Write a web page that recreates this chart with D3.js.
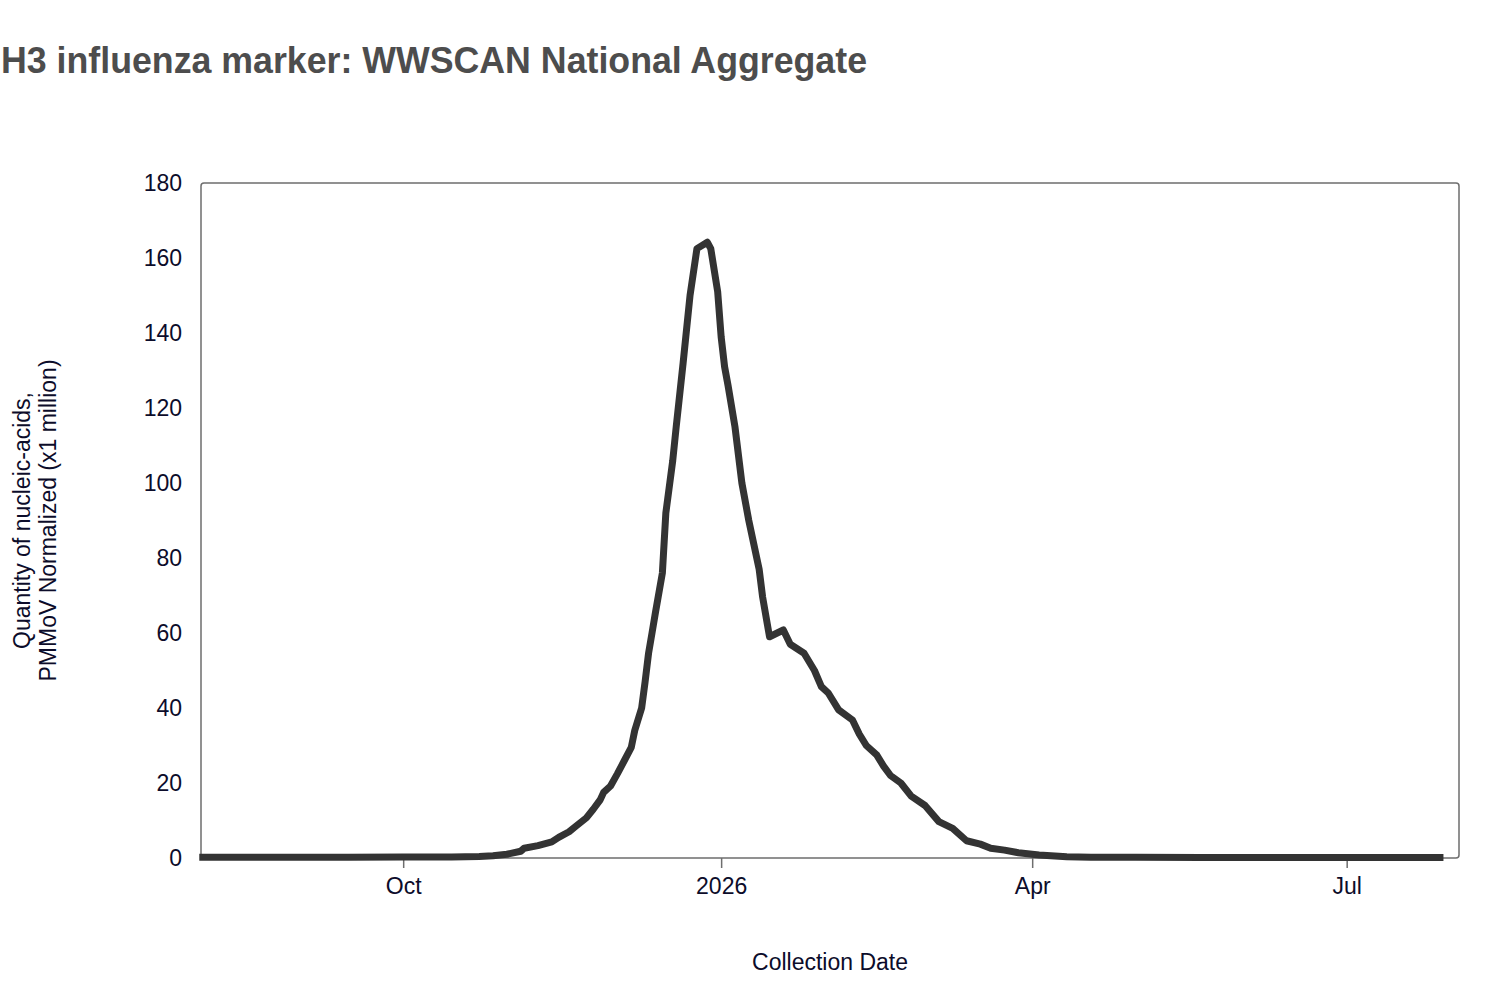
<!DOCTYPE html>
<html>
<head>
<meta charset="utf-8">
<script src="https://cdn.jsdelivr.net/npm/d3@7"></script>
<style>
  body { margin: 0; background: #fff; }
  text { font-family: "Liberation Sans", Arial, Helvetica, sans-serif; }
</style>
</head>
<body>
<svg id="chart" width="1500" height="986"></svg>
<script>
// collection dates and H3 values
var dates = [
  "2025-08-03","2025-08-20","2025-09-01","2025-09-15","2025-10-01","2025-10-15",
  "2025-10-23","2025-10-27","2025-10-31","2025-11-04","2025-11-05","2025-11-09",
  "2025-11-13","2025-11-15","2025-11-18","2025-11-20","2025-11-23","2025-11-25",
  "2025-11-27","2025-11-28","2025-11-30","2025-12-02","2025-12-04","2025-12-06",
  "2025-12-07","2025-12-09","2025-12-10","2025-12-11","2025-12-12","2025-12-13",
  "2025-12-15","2025-12-16","2025-12-18","2025-12-19","2025-12-21","2025-12-23",
  "2025-12-25","2025-12-28","2025-12-29","2025-12-31","2026-01-01","2026-01-02",
  "2026-01-03","2026-01-05","2026-01-07","2026-01-09","2026-01-12","2026-01-13",
  "2026-01-15","2026-01-19","2026-01-21","2026-01-25","2026-01-28","2026-01-30",
  "2026-02-01","2026-02-04","2026-02-08","2026-02-10","2026-02-12","2026-02-15",
  "2026-02-17","2026-02-19","2026-02-22","2026-02-25","2026-03-01","2026-03-05",
  "2026-03-09","2026-03-13","2026-03-17","2026-03-20","2026-03-24","2026-03-28",
  "2026-04-03","2026-04-11","2026-04-18","2026-05-01","2026-05-20","2026-06-10",
  "2026-07-01","2026-07-29"
];
var values = [
  0.2, 0.2, 0.2, 0.2, 0.25, 0.3,
  0.4, 0.6, 1.0, 1.8, 2.6, 3.3,
  4.3, 5.5, 7, 8.5, 10.7, 13,
  15.5, 17.5, 19.2, 22.5, 26, 29.5,
  34, 40, 47, 54.6, 60, 65.5,
  76, 92, 106, 115, 132, 150,
  162.5, 164.2, 162.5, 151, 139, 131,
  126, 115, 100, 90, 77, 69.6,
  59, 60.8, 57, 54.6, 50, 45.7,
  44, 39.5, 36.8, 33, 30, 27.5,
  24.5, 22, 20, 16.5, 14, 9.7,
  7.9, 4.6, 3.7, 2.6, 2.1, 1.4,
  0.8, 0.35, 0.2, 0.2, 0.15, 0.15,
  0.15, 0.15
];
var xTicks = ["2025-10-01", "2026-01-01", "2026-04-01", "2026-07-01"];
var xTickLabels = ["Oct", "2026", "Apr", "Jul"];
var yTicks = [0, 20, 40, 60, 80, 100, 120, 140, 160, 180];

var parse = d3.timeParse("%Y-%m-%d");
var data = dates.map(function(d, i){ return {date: parse(d), value: values[i]}; });

var plotL = 201, plotR = 1459, plotT = 183, plotB = 858;
var labelColor = "#0c0c2a";
var svg = d3.select("#chart");

var x = d3.scaleTime()
  .domain([new Date(2025, 7, 3, 12), new Date(2026, 7, 2, 12)])
  .range([plotL, plotR]);
var y = d3.scaleLinear().domain([0, 180]).range([plotB, plotT]);

// title
svg.append("text")
  .attr("x", 1).attr("y", 73)
  .attr("font-size", 36).attr("font-weight", "bold")
  .attr("fill", "#4d4d4d")
  .attr("textLength", 866).attr("lengthAdjust", "spacingAndGlyphs")
  .text("H3 influenza marker: WWSCAN National Aggregate");

// plot frame
svg.append("rect")
  .attr("x", plotL).attr("y", plotT)
  .attr("width", plotR - plotL).attr("height", plotB - plotT)
  .attr("rx", 3).attr("ry", 3)
  .attr("fill", "none").attr("stroke", "#6e6e6e").attr("stroke-width", 1.5);

// x axis
var xAxis = svg.append("g")
  .attr("transform", "translate(0," + plotB + ")")
  .call(d3.axisBottom(x)
    .tickValues(xTicks.map(parse))
    .tickSize(10)
    .tickPadding(10)
    .tickFormat(function(d, i){ return xTickLabels[i]; }));
xAxis.select(".domain").remove();
xAxis.selectAll(".tick line").attr("stroke", "#6e6e6e").attr("stroke-width", 1.5);
xAxis.selectAll(".tick text")
  .attr("font-size", 23).attr("fill", labelColor)
  .style("font-family", "'Liberation Sans', Arial, sans-serif");

// y axis
var yAxis = svg.append("g")
  .attr("transform", "translate(" + plotL + ",0)")
  .call(d3.axisLeft(y).tickValues(yTicks).tickSize(0).tickPadding(19));
yAxis.select(".domain").remove();
yAxis.selectAll(".tick text")
  .attr("font-size", 23).attr("fill", labelColor)
  .style("font-family", "'Liberation Sans', Arial, sans-serif");

// axis titles
svg.append("text")
  .attr("x", (plotL + plotR) / 2).attr("y", 970)
  .attr("text-anchor", "middle")
  .attr("font-size", 23).attr("fill", labelColor)
  .text("Collection Date");

var yt = svg.append("text")
  .attr("transform", "translate(30," + ((plotT + plotB) / 2) + ") rotate(-90)")
  .attr("text-anchor", "middle")
  .attr("font-size", 23).attr("fill", labelColor);
yt.append("tspan").attr("x", 0).attr("y", 0).text("Quantity of nucleic-acids,");
yt.append("tspan").attr("x", 0).attr("y", 26).text("PMMoV Normalized (x1 million)");

// line
var line = d3.line()
  .x(function(d){ return x(d.date); })
  .y(function(d){ return y(d.value); });

svg.append("path")
  .datum(data)
  .attr("d", line)
  .attr("fill", "none")
  .attr("stroke", "#333333")
  .attr("stroke-width", 7)
  .attr("stroke-linejoin", "round");
</script>
</body>
</html>
